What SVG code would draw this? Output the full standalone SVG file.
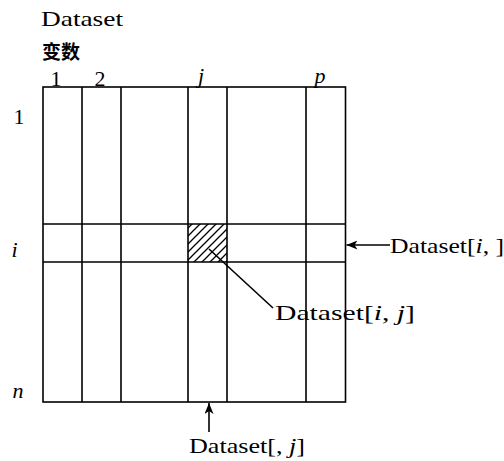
<svg xmlns="http://www.w3.org/2000/svg" width="504" height="461" viewBox="0 0 504 461">
<style>
.l{stroke:#000;stroke-width:1.6;fill:none}
.t{font-family:"Liberation Serif","DejaVu Serif",serif;font-size:22px;fill:#000}
.it{font-style:italic}
.cjk{font-family:"Noto Sans CJK SC",sans-serif;font-size:19px;font-weight:bold;fill:#000}
</style>
<defs>
<pattern id="hatch" patternUnits="userSpaceOnUse" width="8" height="8">
<path d="M-1,1 L1,-1 M0,8 L8,0 M7,9 L9,7" stroke="#000" stroke-width="1.3"/>
</pattern>
<marker id="ah" viewBox="0 0 11 9" refX="11" refY="4.5" markerWidth="11" markerHeight="9" markerUnits="userSpaceOnUse" orient="auto">
<path d="M0,0 L11,4.5 L0,9 L3,4.5 Z" fill="#000"/>
</marker>
</defs>
<g id="title">
<text class="t" x="41" y="26" textLength="82" lengthAdjust="spacingAndGlyphs">Dataset</text>
<text class="cjk" x="42" y="59">变数</text>
</g>
<g id="matrix">
<rect x="188" y="224" width="39" height="38" fill="url(#hatch)"/>
<rect class="l" x="43" y="87" width="302.5" height="315"/>
<path class="l" d="M82,87V402 M121,87V402 M188,87V402 M227,87V402 M306,87V402 M43,224H345.5 M43,262H345.5"/>
</g>
<g id="col-labels">
<text class="t" x="56" y="86" text-anchor="middle">1</text>
<text class="t" x="100" y="86" text-anchor="middle">2</text>
<text class="t it" x="201" y="83" text-anchor="middle">j</text>
<text class="t it" x="320" y="83" text-anchor="middle">p</text>
</g>
<g id="row-labels">
<text class="t" x="19" y="124" text-anchor="middle">1</text>
<text class="t it" x="14.5" y="257" text-anchor="middle">i</text>
<text class="t it" x="18" y="398" text-anchor="middle">n</text>
</g>
<g id="connectors">
<line class="l" x1="209" y1="249" x2="273" y2="308"/>
<line class="l" x1="390" y1="245" x2="346.5" y2="245" marker-end="url(#ah)"/>
<line class="l" x1="209" y1="432" x2="209" y2="403" marker-end="url(#ah)"/>
</g>
<g id="labels">
<text class="t" x="275" y="320" textLength="140" lengthAdjust="spacingAndGlyphs">Dataset[<tspan class="it">i</tspan>, <tspan class="it">j</tspan>]</text>
<text class="t" x="390" y="253" textLength="114" lengthAdjust="spacingAndGlyphs">Dataset[<tspan class="it">i</tspan>, ]</text>
<text class="t" x="189" y="453" textLength="116" lengthAdjust="spacingAndGlyphs">Dataset[, <tspan class="it">j</tspan>]</text>
</g>
</svg>
